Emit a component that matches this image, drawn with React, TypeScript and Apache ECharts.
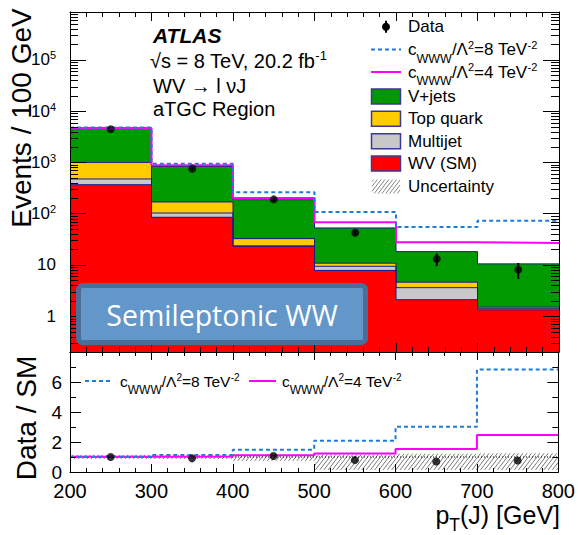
import { useEffect, useRef } from 'react';
import * as echarts from 'echarts';

// Bin edges of the large-R jet pT distribution (GeV)
const binEdges = [200, 300, 400, 500, 600, 700, 800];

// Background / SM contributions per bin (events / 100 GeV)
const wvSM = [368, 85, 23.1, 7.8, 2.1, 1.33];
const multijet = [107, 18, 0.4, 1.6, 1.5, 0.07];
const topQuark = [525, 66, 9.1, 1.4, 1.0, 0.1];
const vJets = [3650, 667, 154.4, 41.9, 13.6, 9.0];

// Observed data with statistical errors
const dataCounts = [4450, 755, 190, 42.5, 13.1, 8.1];
const dataErrors = [67, 27, 14, 6.5, 3.6, 2.8];

// Anomalous-coupling predictions
const cwww8 = [4800, 944, 262, 108, 55, 73];
const cwww4 = [4700, 880, 202, 68, 27.7, 26.9];

// Ratio panel
const ratioData = [1.0, 0.91, 1.07, 0.79, 0.7, 0.77];
const ratioCwww8 = [1.02, 1.13, 1.49, 2.09, 3.02, 6.84];
const ratioCwww4 = [1.01, 1.04, 1.12, 1.24, 1.53, 2.47];
const ratioUncLow = [0.86, 0.86, 0.74, 0.14, 0.14, 0.14];
const ratioUncHigh = [1.14, 1.14, 1.18, 1.18, 1.22, 1.25];

const Y_MIN = 0.2;
const Y_MAX = 8.6e5;

const FONT = '"Liberation Sans", Arial, Helvetica, sans-serif';
const NAVY = '#1a1a8c';
const BLUE = '#1f7ad8';
const MAGENTA = '#ff00ff';

const layers = [
  { name: 'WV (SM)', values: wvSM, color: '#ff0000' },
  { name: 'Multijet', values: multijet, color: '#c8c8c8' },
  { name: 'Top quark', values: topQuark, color: '#ffcc00' },
  { name: 'V+jets', values: vJets, color: '#009900' },
];

function stackLayers() {
  let cum = wvSM.map(() => 0);
  return layers.map((l) => {
    const lo = cum;
    const hi = cum.map((c, i) => c + l.values[i]);
    cum = hi;
    return { ...l, lo, hi };
  });
}

function stepPoints(vals: number[]) {
  return binEdges.map((e, i) => [e, vals[Math.min(i, vals.length - 1)]]);
}

// "/" hatching clipped to a pixel rectangle (y0 top, y1 bottom)
function hatchSegments(x0: number, y0: number, x1: number, y1: number, step: number, slope = 1.3) {
  const segs: number[][] = [];
  const cStart = Math.ceil((x0 * slope + y0) / step) * step;
  for (let c = cStart; c <= x1 * slope + y1; c += step) {
    // line: y = c - slope * x
    const xa = Math.max(x0, (c - y1) / slope);
    const xb = Math.min(x1, (c - y0) / slope);
    if (xb > xa) segs.push([xa, c - slope * xa, xb, c - slope * xb]);
  }
  return segs;
}

const rectRender = (color: string) => (_p: any, api: any) => {
  const a = api.coord([api.value(0), api.value(3)]);
  const b = api.coord([api.value(1), api.value(2)]);
  const x0 = Math.round(a[0]);
  const x1 = Math.round(b[0]);
  const y0 = Math.round(a[1]);
  const y1 = Math.round(b[1]);
  return {
    type: 'rect',
    shape: { x: x0, y: y0, width: x1 - x0, height: y1 - y0 },
    style: { fill: color },
  };
};

// Rich-text styles for ROOT-like sub/superscripts: the padding shifts the glyphs
const richStyles = (size: number, subDrop: number, supRise: number, subScale = 0.76) => ({
  m: { fontSize: size, fontFamily: FONT, fill: '#000', color: '#000' },
  sub: { fontSize: Math.round(size * subScale * 2) / 2, fontFamily: FONT, fill: '#000', color: '#000', padding: [subDrop * 2, 0, 0, 0] },
  sup: { fontSize: Math.round(size * 0.64 * 2) / 2, fontFamily: FONT, fill: '#000', color: '#000', padding: [0, 0, supRise * 2, 0] },
});

function buildOption() {
  const stacked = stackLayers();
  const series: any[] = [];

  // Stacked fills
  stacked.forEach((l) => {
    series.push({
      type: 'custom',
      xAxisIndex: 0,
      yAxisIndex: 0,
      z: 1,
      silent: true,
      encode: { x: [0, 1], y: [2, 3] },
      data: l.lo.map((lo, i) => [binEdges[i], binEdges[i + 1], Math.max(lo, Y_MIN), l.hi[i]]),
      renderItem: rectRender(l.color),
    });
  });
  // Stack outlines
  stacked.forEach((l) => {
    series.push({
      type: 'line',
      step: 'end',
      xAxisIndex: 0,
      yAxisIndex: 0,
      z: 2,
      silent: true,
      symbol: 'none',
      data: stepPoints(l.hi),
      lineStyle: { color: NAVY, width: 1 },
    });
  });
  // Anomalous-coupling predictions
  series.push({
    type: 'line', step: 'end', xAxisIndex: 0, yAxisIndex: 0, z: 3, silent: true, symbol: 'none',
    data: stepPoints(cwww4), lineStyle: { color: MAGENTA, width: 2 },
  });
  series.push({
    type: 'line', step: 'end', xAxisIndex: 0, yAxisIndex: 0, z: 4, silent: true, symbol: 'none',
    data: stepPoints(cwww8), lineStyle: { color: BLUE, width: 2, type: [4, 3] },
  });
  // Data error bars
  series.push({
    type: 'custom', xAxisIndex: 0, yAxisIndex: 0, z: 5, silent: true,
    encode: { x: 0, y: [1, 2] },
    data: dataCounts.map((v, i) => [(binEdges[i] + binEdges[i + 1]) / 2, v - dataErrors[i], v + dataErrors[i]]),
    renderItem: (_p: any, api: any) => {
      const a = api.coord([api.value(0), api.value(1)]);
      const b = api.coord([api.value(0), api.value(2)]);
      return { type: 'line', shape: { x1: a[0], y1: a[1], x2: b[0], y2: b[1] }, style: { stroke: '#000', lineWidth: 2 } };
    },
  });
  series.push({
    type: 'scatter', xAxisIndex: 0, yAxisIndex: 0, z: 6, silent: true,
    symbol: 'circle', symbolSize: 8, itemStyle: { color: '#000' },
    data: dataCounts.map((v, i) => [(binEdges[i] + binEdges[i + 1]) / 2, v]),
  });
  // Log-axis minor ticks (2..9 x 10^k) on both frame sides
  const minorVals: number[] = [];
  for (let k = -1; k <= 5; k++) {
    for (let m = 2; m <= 9; m++) {
      const v = m * Math.pow(10, k);
      if (v > Y_MIN && v < Y_MAX) minorVals.push(v);
    }
  }
  series.push({
    type: 'custom', xAxisIndex: 0, yAxisIndex: 0, z: 20, silent: true,
    encode: { x: 0, y: 1 },
    data: minorVals.map((v) => [200, v]),
    renderItem: (_p: any, api: any) => {
      const l = api.coord([200, api.value(1)]);
      const r = api.coord([800, api.value(1)]);
      const y = Math.round(l[1]) + 0.5;
      return {
        type: 'group',
        children: [
          { type: 'line', shape: { x1: l[0], y1: y, x2: l[0] + 8, y2: y }, style: { stroke: '#000', lineWidth: 1 } },
          { type: 'line', shape: { x1: r[0] - 8, y1: y, x2: r[0], y2: y }, style: { stroke: '#000', lineWidth: 1 } },
        ],
      };
    },
  });

  // Ratio panel: uncertainty band
  series.push({
    type: 'custom', xAxisIndex: 2, yAxisIndex: 2, z: 1, silent: true,
    encode: { x: [0, 1], y: [2, 3] },
    data: ratioUncLow.map((lo, i) => [binEdges[i], binEdges[i + 1], lo, ratioUncHigh[i]]),
    renderItem: (_p: any, api: any) => {
      const a = api.coord([api.value(0), api.value(3)]);
      const b = api.coord([api.value(1), api.value(2)]);
      const segs = hatchSegments(a[0], a[1], b[0], b[1], 5.5);
      return {
        type: 'group',
        children: segs.map((s) => ({
          type: 'line',
          shape: { x1: s[0], y1: s[1], x2: s[2], y2: s[3] },
          style: { stroke: '#555', lineWidth: 0.8 },
        })),
      };
    },
  });
  // Reference line at unity
  series.push({
    type: 'line', xAxisIndex: 2, yAxisIndex: 2, z: 2, silent: true, symbol: 'none',
    data: [[200, 1], [800, 1]], lineStyle: { color: '#000', width: 1, type: [1, 2] },
  });
  series.push({
    type: 'line', step: 'end', xAxisIndex: 2, yAxisIndex: 2, z: 3, silent: true, symbol: 'none',
    data: stepPoints(ratioCwww4), lineStyle: { color: MAGENTA, width: 2 },
  });
  series.push({
    type: 'line', step: 'end', xAxisIndex: 2, yAxisIndex: 2, z: 4, silent: true, symbol: 'none',
    data: stepPoints(ratioCwww8), lineStyle: { color: BLUE, width: 2, type: [4, 3] },
  });
  series.push({
    type: 'scatter', xAxisIndex: 2, yAxisIndex: 2, z: 6, silent: true,
    symbol: 'circle', symbolSize: 8, itemStyle: { color: '#000' },
    data: ratioData.map((v, i) => [(binEdges[i] + binEdges[i + 1]) / 2, v]),
  });

  const xBase = (grid: number, pos: 'top' | 'bottom', showLabels: boolean, tickLen: number, minorLen: number) => ({
    type: 'value',
    gridIndex: grid,
    position: pos,
    min: 200,
    max: 800,
    interval: 100,
    z: 10,
    axisLine: { show: true, onZero: false, lineStyle: { color: '#000', width: 1 } },
    axisTick: { show: true, inside: true, length: tickLen, lineStyle: { color: '#000' } },
    minorTick: { show: true, splitNumber: 5, length: minorLen, lineStyle: { color: '#000' } },
    splitLine: { show: false },
    axisLabel: showLabels
      ? { show: true, fontSize: 20, fontFamily: FONT, color: '#000', margin: 9 }
      : { show: false },
  });

  const logLabel = (v: number) => {
    const lg = Math.log10(v);
    const e = Math.round(lg);
    if (Math.abs(lg - e) > 1e-6) return '';
    if (e === 0) return '{b|1}';
    if (e === 1) return '{b|10}';
    return `{b|10}{s|${e}}`;
  };

  const yLog = (pos: 'left' | 'right', showLabels: boolean) => ({
    type: 'log',
    logBase: 10,
    gridIndex: 0,
    position: pos,
    min: Y_MIN,
    max: Y_MAX,
    z: 10,
    axisLine: { show: true, lineStyle: { color: '#000', width: 1 } },
    axisTick: { show: true, inside: true, length: 16, lineStyle: { color: '#000' } },
    splitLine: { show: false },
    axisLabel: showLabels
      ? {
          show: true,
          margin: 14,
          formatter: logLabel,
          showMinLabel: false,
          showMaxLabel: false,
          rich: {
            b: { fontSize: 17, fontFamily: FONT, color: '#000' },
            s: { fontSize: 11, fontFamily: FONT, color: '#000', padding: [0, 0, 9, 0] },
          },
        }
      : { show: false },
  });

  const yRatio = (pos: 'left' | 'right', showLabels: boolean) => ({
    type: 'value',
    gridIndex: 1,
    position: pos,
    min: 0,
    max: 8,
    interval: 2,
    z: 10,
    axisLine: { show: true, lineStyle: { color: '#000', width: 1 } },
    axisTick: { show: true, inside: true, length: 11, lineStyle: { color: '#000' } },
    minorTick: { show: true, splitNumber: 2, length: 6, lineStyle: { color: '#000' } },
    splitLine: { show: false },
    axisLabel: showLabels
      ? {
          show: true, fontSize: 19, fontFamily: FONT, color: '#000', margin: 8,
          formatter: (v: number) => (v >= 8 ? '' : String(v)),
        }
      : { show: false },
  });

  // Legend and annotations
  const legendX = 371;
  const textX = 408;
  const rows = [26.7, 49.5, 72, 96.5, 118.8, 141.3, 163.6, 186.5];
  const graphic: any[] = [];

  graphic.push({ type: 'circle', shape: { cx: 386, cy: rows[0], r: 4 }, style: { fill: '#000' }, z: 100 });
  graphic.push({ type: 'line', shape: { x1: 386, y1: rows[0] - 6, x2: 386, y2: rows[0] + 6 }, style: { stroke: '#000', lineWidth: 2 }, z: 100 });
  graphic.push({ type: 'line', shape: { x1: legendX, y1: rows[1], x2: legendX + 30, y2: rows[1] }, style: { stroke: BLUE, lineWidth: 2, lineDash: [4, 3] }, z: 100 });
  graphic.push({ type: 'line', shape: { x1: legendX, y1: rows[2], x2: legendX + 30, y2: rows[2] }, style: { stroke: MAGENTA, lineWidth: 2 }, z: 100 });

  const legendText = (text: string, y: number, rich = false, size = 17) => ({
    type: 'text',
    x: textX,
    y,
    z: 100,
    style: {
      text,
      fontSize: size,
      fontFamily: FONT,
      fill: '#000',
      align: 'left',
      verticalAlign: 'middle',
      ...(rich ? { rich: richStyles(size, 9, 5, 0.74) } : {}),
    },
  });
  graphic.push(legendText('Data', rows[0]));
  graphic.push(legendText('{m|c}{sub|WWW}{m|/Λ}{sup|2}{m|=8 TeV}{sup|-2}', rows[1], true));
  graphic.push(legendText('{m|c}{sub|WWW}{m|/Λ}{sup|2}{m|=4 TeV}{sup|-2}', rows[2], true));

  const swatches = [
    { name: 'V+jets', color: '#009900' },
    { name: 'Top quark', color: '#ffcc00' },
    { name: 'Multijet', color: '#c8c8c8' },
    { name: 'WV (SM)', color: '#ff0000' },
  ];
  swatches.forEach((s, i) => {
    const y = rows[3 + i];
    graphic.push({
      type: 'rect', z: 100,
      shape: { x: legendX + 0.5, y: y - 7.5, width: 29, height: 15 },
      style: { fill: s.color, stroke: '#3a3a96', lineWidth: 1.5 },
    });
    graphic.push(legendText(s.name, y));
  });
  const hy = rows[7];
  hatchSegments(legendX + 1, hy - 7, legendX + 29, hy + 7, 5).forEach((s) => {
    graphic.push({ type: 'line', z: 100, shape: { x1: s[0], y1: s[1], x2: s[2], y2: s[3] }, style: { stroke: '#666', lineWidth: 0.8 } });
  });
  graphic.push(legendText('Uncertainty', hy));

  // ATLAS label block
  graphic.push({
    type: 'text', x: 153, y: 35, z: 100,
    style: { text: 'ATLAS', fontSize: 21, fontWeight: 'bold', fontStyle: 'italic', fontFamily: FONT, fill: '#000', verticalAlign: 'middle' },
  });
  graphic.push({
    type: 'text', x: 150, y: 61, z: 100,
    style: { text: '{m|√s = 8 TeV, 20.2 fb}{sup|-1}', fontSize: 20, fontFamily: FONT, verticalAlign: 'middle', rich: richStyles(20, 12, 6) },
  });
  graphic.push({
    type: 'text', x: 153, y: 85.5, z: 100,
    style: { text: 'WV → l νJ', fontSize: 20, fontFamily: FONT, fill: '#000', verticalAlign: 'middle' },
  });
  graphic.push({
    type: 'text', x: 153, y: 109, z: 100,
    style: { text: 'aTGC Region', fontSize: 20, fontFamily: FONT, fill: '#000', verticalAlign: 'middle' },
  });

  // Semileptonic WW banner
  graphic.push({
    type: 'rect', z: 110,
    shape: { x: 78.5, y: 285.5, width: 287, height: 57, r: 4 },
    style: { fill: '#6397ca', stroke: '#4b6e99', lineWidth: 5 },
  });
  graphic.push({
    type: 'text', x: 222, y: 315, z: 111,
    style: { text: 'Semileptonic WW', fontSize: 28.5, fontFamily: '"Open Sans", "Noto Sans", sans-serif', fill: '#ffffff', align: 'center', verticalAlign: 'middle' },
  });

  // Axis titles
  graphic.push({
    type: 'text', x: 21, y: 118, rotation: Math.PI / 2, z: 100,
    style: { text: 'Events / 100 GeV', fontSize: 28, fontFamily: FONT, fill: '#000', align: 'center', verticalAlign: 'middle' },
  });
  graphic.push({
    type: 'text', x: 26, y: 418, rotation: Math.PI / 2, z: 100,
    style: { text: 'Data / SM', fontSize: 28, fontFamily: FONT, fill: '#000', align: 'center', verticalAlign: 'middle' },
  });
  graphic.push({
    type: 'text', x: 560, y: 515, z: 100,
    style: { text: '{m|p}{sub|T}{m|(J) [GeV]}', fontSize: 25, fontFamily: FONT, align: 'right', verticalAlign: 'middle', rich: richStyles(25, 10, 5, 0.7) },
  });

  // Ratio legend
  graphic.push({ type: 'line', z: 100, shape: { x1: 85, y1: 381, x2: 111, y2: 381 }, style: { stroke: BLUE, lineWidth: 2, lineDash: [4, 3] } });
  graphic.push({
    type: 'text', x: 120, y: 381, z: 100,
    style: { text: '{m|c}{sub|WWW}{m|/Λ}{sup|2}{m|=8 TeV}{sup|-2}', fontSize: 15.5, fontFamily: FONT, verticalAlign: 'middle', rich: richStyles(15.5, 9, 4) },
  });
  graphic.push({ type: 'line', z: 100, shape: { x1: 249, y1: 381, x2: 276, y2: 381 }, style: { stroke: MAGENTA, lineWidth: 2 } });
  graphic.push({
    type: 'text', x: 282, y: 381, z: 100,
    style: { text: '{m|c}{sub|WWW}{m|/Λ}{sup|2}{m|=4 TeV}{sup|-2}', fontSize: 15.5, fontFamily: FONT, verticalAlign: 'middle', rich: richStyles(15.5, 9, 4) },
  });

  return {
    animation: false,
    backgroundColor: '#ffffff',
    grid: [
      { left: 70, top: 12, width: 489, height: 340 },
      { left: 70, top: 352, width: 489, height: 120 },
    ],
    xAxis: [
      xBase(0, 'bottom', false, 9, 5),
      xBase(0, 'top', false, 9, 5),
      xBase(1, 'bottom', true, 8, 4),
      xBase(1, 'top', false, 8, 4),
    ],
    yAxis: [yLog('left', true), yLog('right', false), yRatio('left', true), yRatio('right', false)],
    series,
    graphic,
  };
}

export default function App() {
  const ref = useRef<HTMLDivElement>(null);
  useEffect(() => {
    if (!ref.current) return;
    const chart = echarts.init(ref.current, null, { renderer: 'svg' });
    chart.setOption(buildOption() as any);
    return () => chart.dispose();
  }, []);
  return <div ref={ref} style={{ position: 'fixed', left: 0, top: 0, width: 578, height: 535 }} />;
}
